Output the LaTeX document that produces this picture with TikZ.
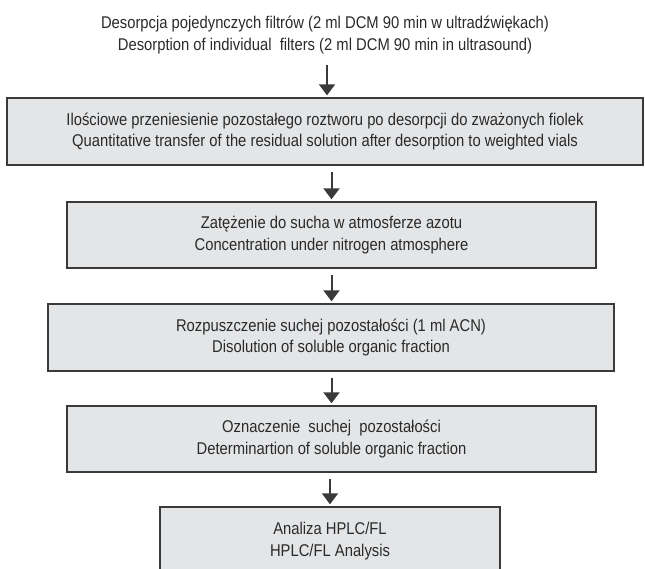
\documentclass[tikz,border=0pt]{standalone}
\usepackage{fontspec}
\setmainfont[FakeStretch=0.87]{Liberation Sans}
\usetikzlibrary{arrows.meta}
\definecolor{boxfill}{HTML}{E4E5E7}
\definecolor{boxline}{HTML}{3A3A3A}
\definecolor{txt}{HTML}{2A2A2A}
\begin{document}
\begin{tikzpicture}[x=1pt,y=-1pt,
  txtstyle/.style={align=center,inner sep=0pt,text=txt,font=\fontsize{17}{21.5}\selectfont},
  stepbox/.style={txtstyle,draw=boxline,line width=1.4pt,fill=boxfill},
  flow/.style={draw=boxline,line width=2pt,-{Triangle[width=16pt,length=11pt]},shorten >=2pt}]
\useasboundingbox (0,0) rectangle (645,568);
\node[txtstyle] (t0) at (325,35) {Desorpcja pojedynczych filtrów (2 ml DCM 90 min w ultradźwiękach)\\Desorption of individual\ \ filters (2 ml DCM 90 min in ultrasound)};
\node[stepbox,minimum width=636pt,minimum height=67pt] (b1) at (325,131.5) {Ilościowe przeniesienie pozostałego roztworu po desorpcji do zważonych fiolek\\Quantitative transfer of the residual solution after desorption to weighted vials};
\node[stepbox,minimum width=529pt,minimum height=66pt] (b2) at (331.5,235) {Zatężenie do sucha w atmosferze azotu\\Concentration under nitrogen atmosphere};
\node[stepbox,minimum width=566pt,minimum height=67pt] (b3) at (331,337.5) {Rozpuszczenie suchej pozostałości (1 ml ACN)\\Disolution of soluble organic fraction};
\node[stepbox,minimum width=529pt,minimum height=66pt] (b4) at (331.5,439) {Oznaczenie\ \ suchej\ \ pozostałości\\Determinartion of soluble organic fraction};
\node[stepbox,minimum width=340pt,minimum height=68pt] (b5) at (330,541) {Analiza HPLC/FL\\HPLC/FL Analysis};
\coordinate (a1) at (327,65);
\draw[flow] (a1) -- (a1 |- b1.north);
\draw[flow] ([yshift=-6pt]b1.south -| b2.north) -- (b2.north);
\draw[flow] ([yshift=-6pt]b2.south) -- (b2.south |- b3.north);
\draw[flow] ([yshift=-6pt]b3.south -| b4.north) -- (b4.north);
\draw[flow] ([yshift=-6pt]b4.south -| b5.north) -- (b5.north);
\end{tikzpicture}
\end{document}
